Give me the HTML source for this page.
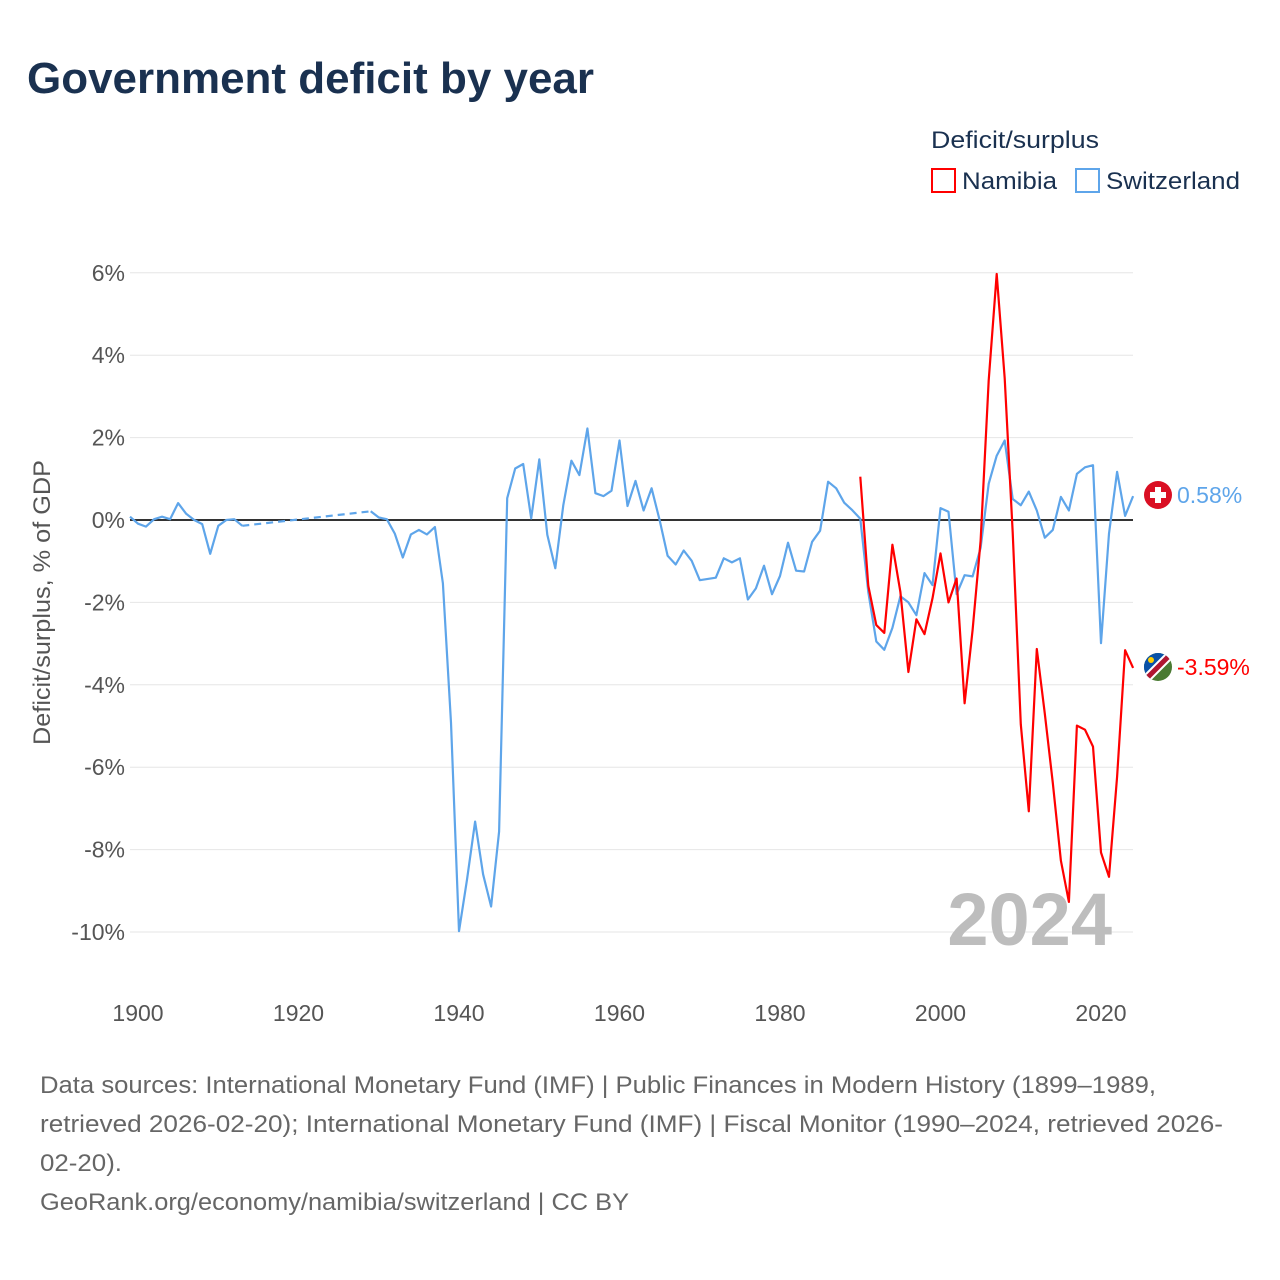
<!DOCTYPE html>
<html><head><meta charset="utf-8"><style>
html,body{margin:0;padding:0;background:#fff;}
svg{display:block;font-family:"Liberation Sans",sans-serif;}
</style></head><body>
<svg id="chart" width="1280" height="1280" viewBox="0 0 1280 1280">
<text x="27" y="93" font-size="44" font-weight="bold" fill="#1a3150" textLength="567" lengthAdjust="spacingAndGlyphs">Government deficit by year</text>
<text x="931" y="148" font-size="24" fill="#1a3150" textLength="168" lengthAdjust="spacingAndGlyphs">Deficit/surplus</text>
<g>
<rect x="932" y="169" width="23" height="23" fill="none" stroke="#ff0000" stroke-width="2"/>
<text x="962" y="189" font-size="24" fill="#1a3150" textLength="95" lengthAdjust="spacingAndGlyphs">Namibia</text>
</g>
<g>
<rect x="1076" y="169" width="23" height="23" fill="none" stroke="#5ea5ea" stroke-width="2"/>
<text x="1106" y="189" font-size="24" fill="#1a3150" textLength="134" lengthAdjust="spacingAndGlyphs">Switzerland</text>
</g>
<text transform="translate(50,603) rotate(-90)" x="-142" y="0" font-size="24" fill="#555" textLength="285" lengthAdjust="spacingAndGlyphs">Deficit/surplus, % of GDP</text>
<g id="grid"></g>
<g id="yticks"></g>
<g id="xticks"></g>
<text x="1112" y="945" text-anchor="end" font-size="74" font-weight="bold" fill="#bdbdbd">2024</text>
<g id="series"></g>
<g>
<circle cx="1158" cy="495" r="14" fill="#da0f23"/>
<rect x="1155" y="487" width="6" height="16" fill="#fff"/>
<rect x="1150" y="492" width="16" height="6" fill="#fff"/>
<text x="1177" y="503" font-size="23" fill="#5ea5ea">0.58%</text>
</g>
<g>
<clipPath id="nc"><circle cx="1158" cy="667" r="14"/></clipPath>
<g clip-path="url(#nc)">
<rect x="1144" y="653" width="28" height="28" fill="#4a7a32"/>
<polygon points="1144,653 1172,653 1144,681" fill="#0a52a8"/>
<line x1="1176" y1="649" x2="1140" y2="685" stroke="#fff" stroke-width="9"/>
<line x1="1176" y1="649" x2="1140" y2="685" stroke="#b01530" stroke-width="5"/>
<circle cx="1151" cy="660" r="3" fill="#ffce00"/>
</g>
<text x="1177" y="675" font-size="23" fill="#ff0000">-3.59%</text>
</g>
<g font-size="24" fill="#666">
<text x="40" y="1093" textLength="1116" lengthAdjust="spacingAndGlyphs">Data sources: International Monetary Fund (IMF) | Public Finances in Modern History (1899–1989,</text>
<text x="40" y="1132" textLength="1183" lengthAdjust="spacingAndGlyphs">retrieved 2026-02-20); International Monetary Fund (IMF) | Fiscal Monitor (1990–2024, retrieved 2026-</text>
<text x="40" y="1171" textLength="82" lengthAdjust="spacingAndGlyphs">02-20).</text>
<text x="40" y="1210" textLength="589" lengthAdjust="spacingAndGlyphs">GeoRank.org/economy/namibia/switzerland | CC BY</text>
</g>
</svg>
<script>
const swissYearsA = [1899,1900,1901,1902,1903,1904,1905,1906,1907,1908,1909,1910,1911,1912,1913];
const swissValuesA = [0.08,-0.09,-0.16,0.02,0.08,0.02,0.41,0.15,0.0,-0.1,-0.82,-0.14,0.0,0.02,-0.14];
const swissYearsB = [];
for (let y = 1929; y <= 2024; y++) swissYearsB.push(y);
const swissValuesB = [0.21,0.06,0.02,-0.33,-0.91,-0.35,-0.24,-0.35,-0.17,-1.54,-4.92,-9.98,-8.73,-7.32,-8.6,-9.38,-7.56,
0.53,1.25,1.36,0.04,1.47,-0.36,-1.17,0.36,1.44,1.09,2.22,0.65,0.58,0.71,1.93,0.34,0.95,0.23,0.77,0.0,
-0.87,-1.08,-0.74,-0.99,-1.46,-1.43,-1.40,-0.93,-1.03,-0.93,-1.93,-1.66,-1.11,-1.80,-1.36,-0.55,-1.23,-1.25,-0.53,-0.26,
0.93,0.77,0.42,0.24,0.03,-1.75,-2.95,-3.15,-2.62,-1.85,-2.0,-2.31,-1.29,-1.58,0.29,0.2,-1.8,-1.34,-1.37,-0.68,
0.88,1.56,1.93,0.51,0.36,0.69,0.23,-0.43,-0.24,0.56,0.23,1.12,1.28,1.33,-2.99,-0.33,1.17,0.1,0.58];
const namibiaYears = [];
for (let y = 1990; y <= 2024; y++) namibiaYears.push(y);
const namibiaValues = [1.05,-1.6,-2.55,-2.74,-0.6,-1.75,-3.69,-2.41,-2.77,-1.9,-0.81,-2.0,-1.42,-4.45,-2.67,-0.51,
3.39,5.97,3.44,-0.3,-4.96,-7.07,-3.13,-4.7,-6.38,-8.27,-9.27,-4.99,-5.09,-5.5,-8.07,-8.66,-6.23,-3.16,-3.59];
const yTickValues = [6,4,2,0,-2,-4,-6,-8,-10];
const yTickLabels = ["6%","4%","2%","0%","-2%","-4%","-6%","-8%","-10%"];
const xTickValues = [1900,1920,1940,1960,1980,2000,2020];
const xTickLabels = ["1900","1920","1940","1960","1980","2000","2020"];

const NS = "http://www.w3.org/2000/svg";
const X0 = 130, X1 = 1133;
function xs(yr){ return 138 + (yr - 1900) * 8.025; }
function ys(v){ return 520 - v * 41.2; }
function mk(tag, attrs, parent){ const e = document.createElementNS(NS, tag); for (const k in attrs) e.setAttribute(k, attrs[k]); parent.appendChild(e); return e; }

const grid = document.getElementById('grid');
const yt = document.getElementById('yticks');
yTickValues.forEach((v,i) => {
  if (v !== 0) {
    const l = mk('line', {x1:X0, x2:X1, y1:ys(v), y2:ys(v), stroke:'#e6e6e6', 'stroke-width':1}, grid);
    
    
  }
  const t = mk('text', {x:125, y:ys(v)+8, 'text-anchor':'end', 'font-size':23, fill:'#555'}, yt);
  t.textContent = yTickLabels[i];
  
  
});
const xt = document.getElementById('xticks');
xTickValues.forEach((v,i) => {
  const t = mk('text', {x:xs(v), y:1021, 'text-anchor':'middle', 'font-size':23, fill:'#555'}, xt);
  t.textContent = xTickLabels[i];
  
  
});

const ser = document.getElementById('series');
function pathOf(xsArr, vsArr){ return xsArr.map((yr,i)=>(i?'L':'M')+xs(yr).toFixed(1)+','+ys(vsArr[i]).toFixed(1)).join(''); }
const zl = mk('line', {x1:X0, x2:X1, y1:ys(0), y2:ys(0), stroke:'#333', 'stroke-width':2}, ser);


const sA = mk('path', {d:pathOf(swissYearsA, swissValuesA), fill:'none', stroke:'#5ea5ea', 'stroke-width':2.2, 'stroke-linejoin':'round'}, ser);


const lastA = swissYearsA.length - 1;
const sGap = mk('path', {d:pathOf([swissYearsA[lastA], swissYearsB[0]], [swissValuesA[lastA], swissValuesB[0]]), fill:'none', stroke:'#5ea5ea', 'stroke-width':2.2, 'stroke-dasharray':'7,5'}, ser);


const sB = mk('path', {d:pathOf(swissYearsB, swissValuesB), fill:'none', stroke:'#5ea5ea', 'stroke-width':2.2, 'stroke-linejoin':'round'}, ser);


const nB = mk('path', {d:pathOf(namibiaYears, namibiaValues), fill:'none', stroke:'#ff0000', 'stroke-width':2.2, 'stroke-linejoin':'round'}, ser);


</script>
</body></html>
